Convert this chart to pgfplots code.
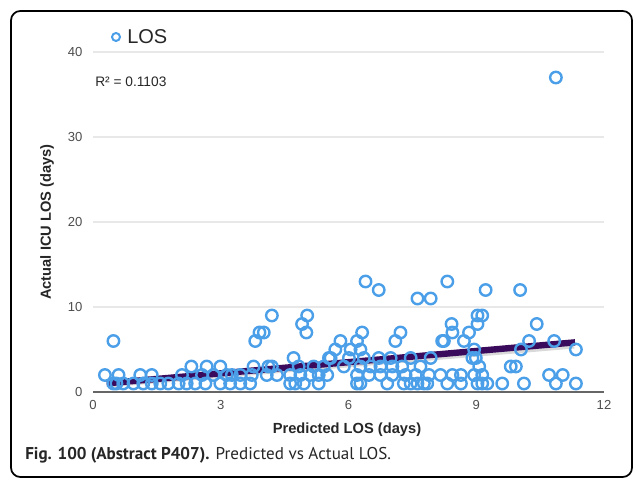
\documentclass[border=0pt]{standalone}
\usepackage{pgfplots}
\pgfplotsset{compat=1.18}
\usepackage{pgfplotstable}
\usepackage{fontspec}
\setmainfont{Liberation Sans}
\newfontfamily\capfont{PT Sans}
\definecolor{losblue}{HTML}{4A9FE8}
\definecolor{trend}{HTML}{3A0B5C}
\definecolor{ticktext}{HTML}{4D4D4D}
\definecolor{gridgray}{HTML}{E8E8E8}

% predicted (x) vs actual (y) ICU length of stay
\pgfplotstableread{
x y
0.48 1
0.55 1
0.71 1
0.95 1
1.18 1
1.38 1
1.58 1
1.77 1
2.01 1
2.20 1
2.40 1
2.64 1
2.99 1
3.22 1
3.46 1
3.69 1
4.63 1
4.75 1
4.95 1
5.30 1
6.20 1
6.28 1
6.91 1
7.30 1
7.46 1
7.62 1
7.77 1
7.85 1
8.32 1
8.64 1
9.03 1
9.14 1
9.26 1
9.61 1
10.12 1
10.87 1
11.34 1
0.28 2
0.60 2
1.11 2
1.38 2
2.09 2
2.56 2
2.83 2
3.14 2
3.26 2
3.46 2
3.73 2
4.08 2
4.32 2
4.63 2
4.87 2
5.10 2
5.30 2
5.50 2
6.20 2
6.48 2
6.75 2
7.03 2
7.34 2
7.58 2
7.89 2
8.16 2
8.44 2
8.64 2
8.95 2
9.14 2
10.71 2
11.03 2
2.31 3
2.67 3
2.99 3
3.77 3
4.12 3
4.20 3
4.83 3
5.18 3
5.42 3
5.89 3
6.28 3
6.52 3
6.75 3
7.03 3
7.26 3
7.69 3
9.07 3
9.81 3
9.93 3
4.71 4
5.54 4
5.58 4
6.01 4
6.36 4
6.71 4
6.99 4
7.46 4
7.93 4
8.91 4
8.99 4
5.69 5
6.05 5
6.28 5
8.95 5
10.05 5
11.34 5
0.48 6
3.81 6
5.81 6
6.20 6
7.10 6
8.20 6
8.24 6
8.71 6
10.24 6
10.83 6
3.91 7
4.01 7
5.01 7
6.32 7
7.22 7
8.44 7
8.83 7
4.91 8
8.42 8
9.03 8
10.42 8
4.20 9
5.03 9
9.03 9
9.14 9
7.62 11
7.93 11
6.71 12
9.22 12
10.03 12
6.40 13
8.32 13
10.87 37
}\losdata

\begin{document}
\begin{tikzpicture}[x=0.75pt,y=0.75pt]
\path[use as bounding box] (0,0) rectangle (634,478);
\draw[black, line width=1.3pt, rounded corners=7pt] (11,1) rectangle (632,467);

\begin{axis}[
    at={(69.75pt,64.5pt)}, anchor=south west,
    scale only axis, width=383.25pt, height=255pt,
    xmin=0, xmax=12, ymin=0, ymax=40,
    xtick={0,3,6,9,12},
    ytick={0,10,20,30,40},
    axis line style={draw=none},
    tick style={draw=none},
    ymajorgrids=true,
    grid style={gridgray, line width=0.8pt},
    tick label style={font=\fontsize{9.8}{11}\selectfont, text=ticktext},
    /pgf/number format/assume math mode=true,
    xticklabel style={yshift=-3pt},
    yticklabel style={xshift=-4.5pt},
    clip=false,
]
\draw[gray!80!black, line width=1pt] (rel axis cs:0,0) -- (rel axis cs:1,0);

\addplot[only marks, color=losblue, mark=o, mark size=4.3pt,
    mark options={draw=losblue, line width=1.8pt}] table {\losdata};

\addplot[gray!30, line width=3pt] coordinates {(0.4,0.8) (11.3,5.35)};
\addplot[trend, line width=4.8pt] coordinates {(0.32,1.02) (11.32,5.84)};
\end{axis}

% legend
\draw[losblue, line width=1.5pt] (116,441) circle (4);
\node[anchor=west, font=\fontsize{15}{17}\selectfont, text=black!85, inner sep=0pt] at (127,441) {LOS};

\node[anchor=west, font=\fontsize{10.3}{12}\selectfont, text=black!85, inner sep=0pt] at (95,396) {R² = 0.1103};
\node[font=\bfseries\fontsize{11}{13}\selectfont, text=black!85] at (347,48) {Predicted LOS (days)};
\node[rotate=90, font=\bfseries\fontsize{11}{13}\selectfont, text=black!85] at (47,256) {Actual ICU LOS (days)};
\node[anchor=west, font=\capfont\fontsize{12.8}{15}\selectfont, text=black!85, inner sep=0pt] at (25,23)
    {\textbf{Fig. 100 (Abstract P407).} Predicted vs Actual LOS.};
\end{tikzpicture}
\end{document}
